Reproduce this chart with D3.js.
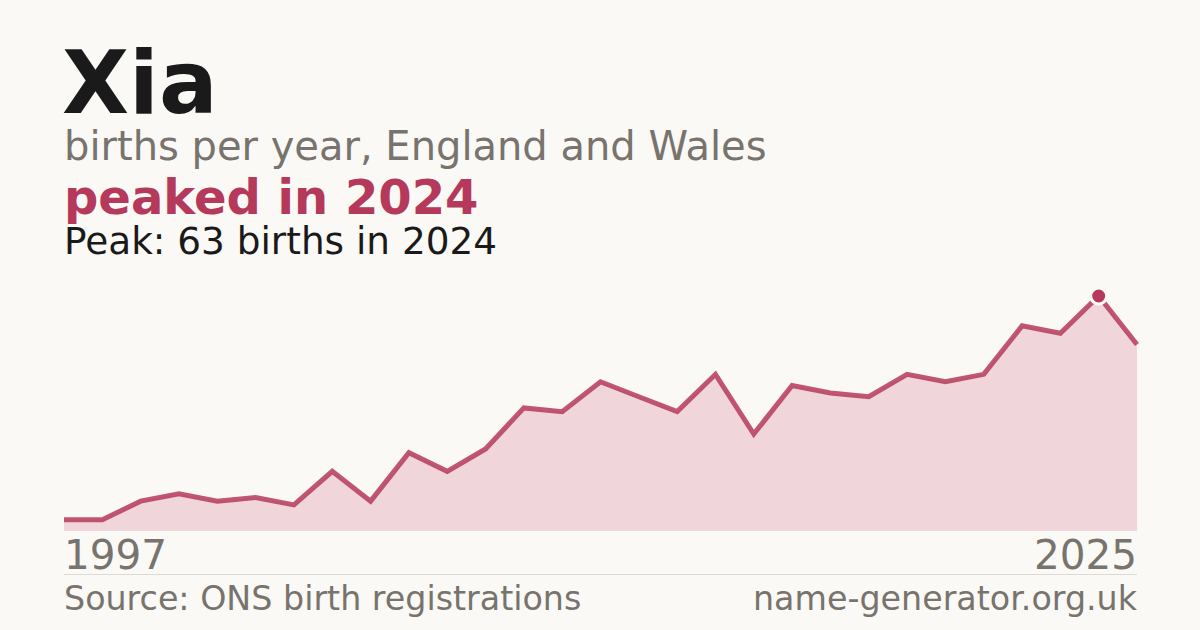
<!DOCTYPE html>
<html>
<head>
<meta charset="utf-8">
<script src="https://cdn.jsdelivr.net/npm/d3@7"></script>
<style>
  html, body { margin: 0; padding: 0; background: #faf9f5; }
  svg { display: block; font-family: "DejaVu Sans", sans-serif; }
</style>
</head>
<body>
<div id="viz"></div>
<script>
const years = [1997, 1998, 1999, 2000, 2001, 2002, 2003, 2004, 2005, 2006,
               2007, 2008, 2009, 2010, 2011, 2012, 2013, 2014, 2015, 2016,
               2017, 2018, 2019, 2020, 2021, 2022, 2023, 2024, 2025];
const births = [3, 3, 8, 10, 8, 9, 7, 16, 8, 21,
                16, 22, 33, 32, 40, 36, 32, 42, 26, 39,
                37, 36, 42, 40, 42, 55, 53, 63, 50];
const peakYear = 2024;
const peakValue = 63;

document.addEventListener("DOMContentLoaded", () => {
    const width = 1200;
    const height = 630;
    const red = "#b5395a";
    const grey = "#78736c";

    const svg = d3.select('#viz').append('svg')
        .attr('width', width)
        .attr('height', height);

    svg.append('rect')
        .attr('width', width)
        .attr('height', height)
        .attr('fill', '#faf9f5');

    const x = d3.scaleLinear()
        .domain(d3.extent(years))
        .range([64, 1137]);

    const y = d3.scaleLinear()
        .domain([0, peakValue])
        .range([531, 296]);

    const data = years.map((yr, i) => ({ year: yr, value: births[i] }));

    const area = d3.area()
        .x(d => x(d.year))
        .y0(y(0))
        .y1(d => y(d.value));

    const line = d3.line()
        .x(d => x(d.year))
        .y(d => y(d.value));

    svg.append('path')
        .attr('d', area(data))
        .attr('fill', '#f0d5da');

    svg.append('path')
        .attr('d', line(data))
        .attr('fill', 'none')
        .attr('stroke', red)
        .attr('stroke-opacity', 0.85)
        .attr('stroke-width', 5);

    svg.append('circle')
        .attr('cx', x(peakYear))
        .attr('cy', y(peakValue))
        .attr('r', 8)
        .attr('fill', red)
        .attr('stroke', '#faf9f5')
        .attr('stroke-width', 3);

    // titles
    svg.append('text')
        .attr('x', 62).attr('y', 113)
        .attr('font-size', 87).attr('font-weight', 'bold')
        .attr('fill', '#1a1a1a')
        .text('Xia');

    svg.append('text')
        .attr('x', 64).attr('y', 160)
        .attr('font-size', 40)
        .attr('fill', grey)
        .text('births per year, England and Wales');

    svg.append('text')
        .attr('x', 64).attr('y', 214)
        .attr('font-size', 48).attr('font-weight', 'bold')
        .attr('fill', red)
        .text('peaked in ' + peakYear);

    svg.append('text')
        .attr('x', 64).attr('y', 254)
        .attr('font-size', 37.4)
        .attr('fill', '#1a1a1a')
        .text('Peak: ' + peakValue + ' births in ' + peakYear);

    // year ends
    svg.append('text')
        .attr('x', 64).attr('y', 569)
        .attr('font-size', 40.5)
        .attr('fill', grey)
        .text(years[0]);

    svg.append('text')
        .attr('x', 1137).attr('y', 569)
        .attr('text-anchor', 'end')
        .attr('font-size', 40.5)
        .attr('fill', grey)
        .text(years[years.length - 1]);

    svg.append('line')
        .attr('x1', 64).attr('x2', 1137)
        .attr('y1', 574.5).attr('y2', 574.5)
        .attr('stroke', '#dedad2')
        .attr('stroke-width', 1);

    svg.append('text')
        .attr('x', 64).attr('y', 610)
        .attr('font-size', 33.3)
        .attr('fill', grey)
        .text('Source: ONS birth registrations');

    svg.append('text')
        .attr('x', 1137).attr('y', 610)
        .attr('text-anchor', 'end')
        .attr('font-size', 33.3)
        .attr('fill', grey)
        .text('name-generator.org.uk');
});
</script>
</body>
</html>
